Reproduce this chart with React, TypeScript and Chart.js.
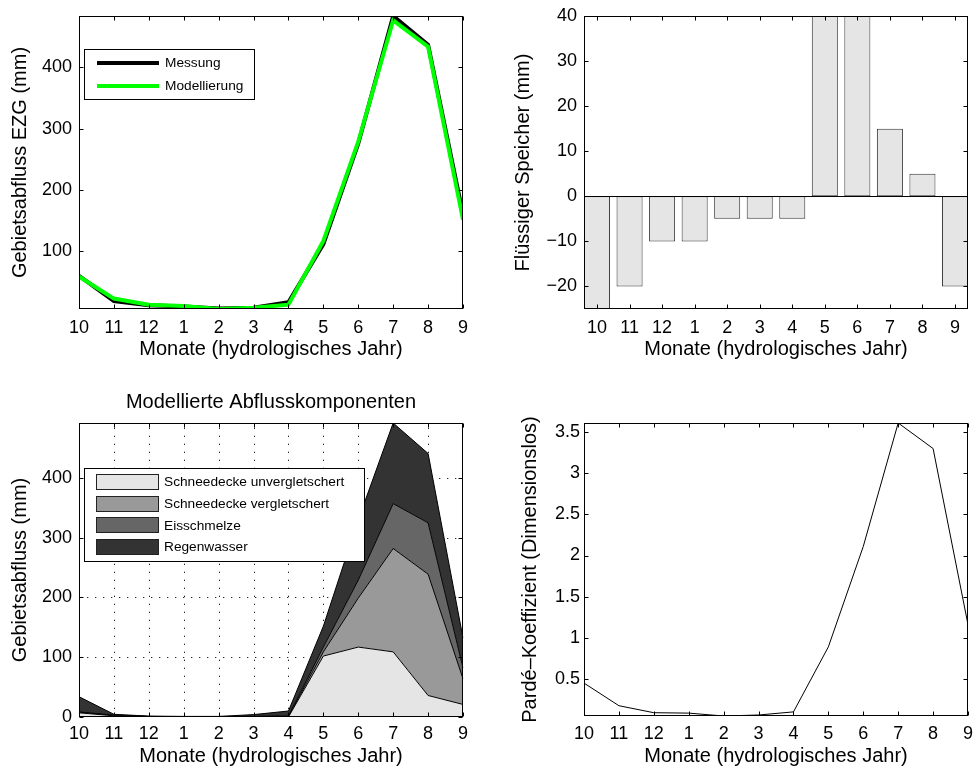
import React, { useEffect, useRef } from 'react';
import { Chart, registerables } from 'chart.js';

Chart.register(...registerables);

// ---------------- data ----------------
const months = ['10', '11', '12', '1', '2', '3', '4', '5', '6', '7', '8', '9'];

const messung = [60, 19, 12, 10, 7, 8, 17, 112, 276, 484, 437, 160];
const modellierung = [59, 23, 13, 11, 6, 8, 13, 117, 279, 477, 434, 152];

const speicher = [-28, -20, -10, -10, -5, -5, -5, 60, 55, 15, 5, -20];

const schneeUnvergl = [7, 2, 0.5, 0.3, 0.2, 0.3, 0, 102, 117, 109, 36, 21];
const schneeVergl = [1, 0.5, 0.3, 0.2, 0.2, 0.5, 1, 7, 82, 173, 203, 43];
const eisschmelze = [0.5, 0.5, 0.2, 0.1, 0.1, 0.2, 1, 8, 30, 75, 86, 18];
const regenwasser = [25.5, 1.5, 0.5, 0.4, 0.5, 3, 8, 35, 101, 135, 116, 50];

const parde = [0.45, 0.175, 0.09, 0.085, 0.05, 0.062, 0.1, 0.89, 2.11, 3.61, 3.3, 1.16];

const ticksTL = [100, 200, 300, 400];
const ticksTR = [-20, -10, 0, 10, 20, 30, 40];
const ticksBL = [0, 100, 200, 300, 400];
const ticksBR = [0.5, 1, 1.5, 2, 2.5, 3, 3.5];

// ---------------- styling helpers ----------------
const FONT = '"Liberation Sans", Arial, Helvetica, sans-serif';
const TICK_SIZE = 18;
const TITLE_SIZE = 20;
const LEGEND_SIZE = 13.7;

Chart.defaults.font.family = FONT;
Chart.defaults.color = '#000';

const fmt = (v: number) => (v < 0 ? '\u2212' + Math.abs(v) : String(v));

const fixY = (w: number) => (s: any) => {
  s.width = w;
  s.paddingTop = 0;
  s.paddingBottom = 0;
  s.paddingLeft = 0;
  s.paddingRight = 0;
};
const fixX = (h: number) => (s: any) => {
  s.height = h;
  s.paddingTop = 0;
  s.paddingBottom = 0;
  s.paddingLeft = 0;
  s.paddingRight = 0;
};
const setTicks = (vals: number[]) => (s: any) => {
  s.ticks = vals.map((v) => ({ value: v }));
};

function line(ctx: CanvasRenderingContext2D, x1: number, y1: number, x2: number, y2: number) {
  ctx.beginPath();
  ctx.moveTo(x1, y1);
  ctx.lineTo(x2, y2);
  ctx.stroke();
}

// frame with MATLAB-like inner ticks, optional dotted grid and zero line
const framePlugin = {
  id: 'frame',
  beforeDatasetsDraw(chart: any, _a: any, opts: any) {
    if (!opts || !opts.grid) return;
    const { ctx, chartArea: a, scales } = chart;
    const x = scales.x;
    const y = scales.y;
    ctx.save();
    ctx.strokeStyle = '#222';
    ctx.lineWidth = 1;
    ctx.setLineDash([1.3, 6.7]);
    x.ticks.forEach((_t: any, i: number) => {
      const px = Math.round(x.getPixelForTick(i)) + 0.5;
      if (px <= a.left + 1.5 || px >= a.right - 1.5) return;
      line(ctx, px, a.bottom, px, a.top);
    });
    y.ticks.forEach((_t: any, i: number) => {
      const py = Math.round(y.getPixelForTick(i)) + 0.5;
      if (py <= a.top + 1.5 || py >= a.bottom - 1.5) return;
      line(ctx, a.left, py, a.right, py);
    });
    ctx.restore();
  },
  afterDatasetsDraw(chart: any, _a: any, opts: any) {
    const { ctx, chartArea: a, scales } = chart;
    const x = scales.x;
    const y = scales.y;
    const L = Math.round(a.left) + 0.5;
    const R = Math.round(a.right) - 0.5;
    const T = Math.round(a.top) + 0.5;
    const B = Math.round(a.bottom) - 0.5;
    ctx.save();
    ctx.strokeStyle = '#000';
    ctx.lineWidth = 1;
    if (opts && opts.zeroLine) {
      const pz = Math.round(y.getPixelForValue(0)) + 0.5;
      line(ctx, L, pz, R, pz);
    }
    ctx.strokeRect(L, T, R - L, B - T);
    const tl = 4;
    x.ticks.forEach((_t: any, i: number) => {
      const px = Math.round(x.getPixelForTick(i)) + 0.5;
      line(ctx, px, B, px, B - tl);
      line(ctx, px, T, px, T + tl);
    });
    y.ticks.forEach((_t: any, i: number) => {
      const py = Math.round(y.getPixelForTick(i)) + 0.5;
      line(ctx, L, py, L + tl, py);
      line(ctx, R, py, R - tl, py);
    });
    ctx.restore();
  },
};

// boxed legend inside the axes
const boxLegendPlugin = {
  id: 'boxLegend',
  afterDraw(chart: any, _a: any, o: any) {
    if (!o || !o.show) return;
    const { ctx, chartArea: a } = chart;
    const bx = Math.round(a.left + o.dx);
    const by = Math.round(a.top + o.dy);
    ctx.save();
    ctx.fillStyle = '#fff';
    ctx.fillRect(bx, by, o.w, o.h);
    ctx.strokeStyle = '#000';
    ctx.lineWidth = 1;
    ctx.strokeRect(bx + 0.5, by + 0.5, o.w - 1, o.h - 1);
    ctx.font = `${LEGEND_SIZE}px ${FONT}`;
    ctx.textBaseline = 'middle';
    ctx.textAlign = 'left';
    const items = chart.data.datasets.filter((d: any) => d.label);
    items.forEach((ds: any, i: number) => {
      const cy = by + o.row0 + i * o.rowGap;
      if (o.kind === 'line') {
        ctx.strokeStyle = ds.borderColor;
        ctx.lineWidth = ds.borderWidth;
        line(ctx, bx + o.s0, Math.round(cy), bx + o.s1, Math.round(cy));
      } else {
        const px = Math.round(bx + o.s0);
        const py = Math.round(cy - o.ph / 2);
        const pw = Math.round(o.s1 - o.s0);
        ctx.fillStyle = ds.backgroundColor;
        ctx.fillRect(px, py, pw, o.ph);
        ctx.strokeStyle = '#222';
        ctx.lineWidth = 1;
        ctx.strokeRect(px + 0.5, py + 0.5, pw - 1, o.ph - 1);
      }
      ctx.fillStyle = '#000';
      ctx.fillText(ds.label, bx + o.tx, cy + 0.5);
    });
    ctx.restore();
  },
};

const tickFont = { size: TICK_SIZE };
const titleFont = { size: TITLE_SIZE };
const xTitle = 'Monate (hydrologisches Jahr)';

// ---------------- configs ----------------
function cfgTL(): any {
  return {
    type: 'line',
    data: {
      labels: months,
      datasets: [
        { label: 'Messung', data: messung, borderColor: '#000000', borderWidth: 4, pointRadius: 0, order: 1, clip: 0 },
        { label: 'Modellierung', data: modellierung, borderColor: '#00ff00', borderWidth: 4, pointRadius: 0, order: 0, clip: 0 },
      ],
    },
    options: {
      responsive: false,
      animation: false,
      events: [],
      layout: { padding: { left: 0, top: 16, right: 17, bottom: 0 } },
      plugins: {
        legend: { display: false },
        tooltip: { enabled: false },
        frame: {},
        boxLegend: { show: true, kind: 'line', dx: 5, dy: 33, w: 171, h: 51, s0: 13, s1: 75, row0: 14, rowGap: 22.7, tx: 81 },
      },
      scales: {
        x: {
          type: 'category',
          offset: false,
          grid: { display: false, drawTicks: false },
          border: { display: false },
          ticks: { font: tickFont, padding: 8, autoSkip: false, maxRotation: 0 },
          title: { display: true, text: xTitle, font: titleFont, padding: { top: 0, bottom: 8.5 } },
          afterFit: fixX(61),
        },
        y: {
          type: 'linear',
          min: Math.min(...messung, ...modellierung),
          max: Math.max(...messung, ...modellierung),
          grid: { display: false, drawTicks: false },
          border: { display: false },
          ticks: { font: tickFont, padding: 7, callback: (v: number) => fmt(v) },
          title: { display: true, text: 'Gebietsabfluss EZG (mm)', font: titleFont, padding: { top: 8.4, bottom: 0 } },
          afterBuildTicks: setTicks(ticksTL),
          afterFit: fixY(79),
        },
      },
    },
    plugins: [framePlugin, boxLegendPlugin],
  };
}

function cfgTR(): any {
  return {
    type: 'bar',
    data: {
      datasets: [
        {
          label: '',
          data: speicher.map((v, i) => ({ x: i + 1, y: v })),
          backgroundColor: '#e5e5e5',
          borderColor: '#333333',
          borderWidth: 1,
          borderSkipped: false,
          barPercentage: 1,
          categoryPercentage: 0.8,
        },
      ],
    },
    options: {
      responsive: false,
      animation: false,
      events: [],
      layout: { padding: { left: 0, top: 16, right: 7, bottom: 0 } },
      plugins: {
        legend: { display: false },
        tooltip: { enabled: false },
        frame: { zeroLine: true },
      },
      scales: {
        x: {
          type: 'linear',
          offset: false,
          min: 0.6,
          max: months.length + 0.4,
          grid: { display: false, drawTicks: false, offset: false },
          border: { display: false },
          ticks: { font: tickFont, padding: 8, autoSkip: false, maxRotation: 0, callback: (v: number) => months[Math.round(v) - 1] },
          title: { display: true, text: xTitle, font: titleFont, padding: { top: 0, bottom: 8.5 } },
          afterBuildTicks: setTicks(months.map((_m, i) => i + 1)),
          afterFit: fixX(61),
        },
        y: {
          type: 'linear',
          min: -25,
          max: 40,
          grid: { display: false, drawTicks: false },
          border: { display: false },
          ticks: { font: tickFont, padding: 7, callback: (v: number) => fmt(v) },
          title: { display: true, text: 'Flüssiger Speicher (mm)', font: titleFont, padding: { top: 31.4, bottom: 0 } },
          afterBuildTicks: setTicks(ticksTR),
          afterFit: fixY(104),
        },
      },
    },
    plugins: [framePlugin],
  };
}

function cfgBL(): any {
  const total = schneeUnvergl.map((v, i) => v + schneeVergl[i] + eisschmelze[i] + regenwasser[i]);
  const common = { borderColor: '#000000', borderWidth: 1, pointRadius: 0, tension: 0 };
  return {
    type: 'line',
    data: {
      labels: months,
      datasets: [
        { ...common, label: 'Schneedecke unvergletschert', data: schneeUnvergl, backgroundColor: '#e5e5e5', fill: 'origin' },
        { ...common, label: 'Schneedecke vergletschert', data: schneeVergl, backgroundColor: '#999999', fill: '-1' },
        { ...common, label: 'Eisschmelze', data: eisschmelze, backgroundColor: '#666666', fill: '-1' },
        { ...common, label: 'Regenwasser', data: regenwasser, backgroundColor: '#333333', fill: '-1' },
      ],
    },
    options: {
      responsive: false,
      animation: false,
      events: [],
      layout: { padding: { left: 0, top: 0, right: 17, bottom: 0 } },
      plugins: {
        legend: { display: false },
        tooltip: { enabled: false },
        title: {
          display: true,
          fullSize: false,
          text: 'Modellierte Abflusskomponenten',
          font: { size: TITLE_SIZE, weight: 'normal' },
          color: '#000',
          padding: { top: 10, bottom: 9 },
        },
        frame: { grid: true },
        boxLegend: { show: true, kind: 'patch', dx: 5, dy: 45, w: 281, h: 94, s0: 12, s1: 75, ph: 16, row0: 14, rowGap: 21.7, tx: 80 },
      },
      scales: {
        x: {
          type: 'category',
          offset: false,
          grid: { display: false, drawTicks: false },
          border: { display: false },
          ticks: { font: tickFont, padding: 6, autoSkip: false, maxRotation: 0 },
          title: { display: true, text: xTitle, font: titleFont, padding: { top: 0, bottom: 0 } },
          afterFit: fixX(51),
        },
        y: {
          type: 'linear',
          stacked: true,
          min: 0,
          max: Math.max(...total),
          grid: { display: false, drawTicks: false },
          border: { display: false },
          ticks: { font: tickFont, padding: 7, callback: (v: number) => fmt(v) },
          title: { display: true, text: 'Gebietsabfluss (mm)', font: titleFont, padding: { top: 8.4, bottom: 0 } },
          afterBuildTicks: setTicks(ticksBL),
          afterFit: fixY(79),
        },
      },
    },
    plugins: [framePlugin, boxLegendPlugin],
  };
}

function cfgBR(): any {
  return {
    type: 'line',
    data: {
      labels: months,
      datasets: [{ label: '', data: parde, borderColor: '#000000', borderWidth: 1, pointRadius: 0, tension: 0, clip: 0 }],
    },
    options: {
      responsive: false,
      animation: false,
      events: [],
      layout: { padding: { left: 0, top: 43, right: 7, bottom: 0 } },
      plugins: {
        legend: { display: false },
        tooltip: { enabled: false },
        frame: {},
      },
      scales: {
        x: {
          type: 'category',
          offset: false,
          grid: { display: false, drawTicks: false },
          border: { display: false },
          ticks: { font: tickFont, padding: 7, autoSkip: false, maxRotation: 0 },
          title: { display: true, text: xTitle, font: titleFont, padding: { top: 0, bottom: 0 } },
          afterFit: fixX(52),
        },
        y: {
          type: 'linear',
          min: Math.min(...parde),
          max: Math.max(...parde),
          grid: { display: false, drawTicks: false },
          border: { display: false },
          ticks: { font: tickFont, padding: 4, callback: (v: number) => fmt(v) },
          title: { display: true, text: 'Pardé\u2013Koeffizient (Dimensionslos)', font: titleFont, padding: { top: 38.4, bottom: 0 } },
          afterBuildTicks: setTicks(ticksBR),
          afterFit: fixY(104),
        },
      },
    },
    plugins: [framePlugin],
  };
}

// ---------------- components ----------------
function ChartCanvas(props: { make: () => any; left: number; top: number; width: number; height: number }) {
  const ref = useRef<HTMLCanvasElement | null>(null);
  useEffect(() => {
    if (!ref.current) return;
    const chart = new Chart(ref.current, props.make());
    return () => chart.destroy();
  }, []);
  const { left, top, width, height } = props;
  return (
    <canvas
      ref={ref}
      width={width}
      height={height}
      style={{ position: 'absolute', left, top, width, height, display: 'block' }}
    />
  );
}

export default function App() {
  return (
    <div style={{ position: 'absolute', left: 0, top: 0, width: 975, height: 767, overflow: 'hidden', background: '#fff' }}>
      <ChartCanvas make={cfgTL} left={0} top={0} width={480} height={370} />
      <ChartCanvas make={cfgTR} left={480} top={0} width={495} height={370} />
      <ChartCanvas make={cfgBL} left={0} top={380} width={480} height={388} />
      <ChartCanvas make={cfgBR} left={480} top={380} width={495} height={388} />
    </div>
  );
}
